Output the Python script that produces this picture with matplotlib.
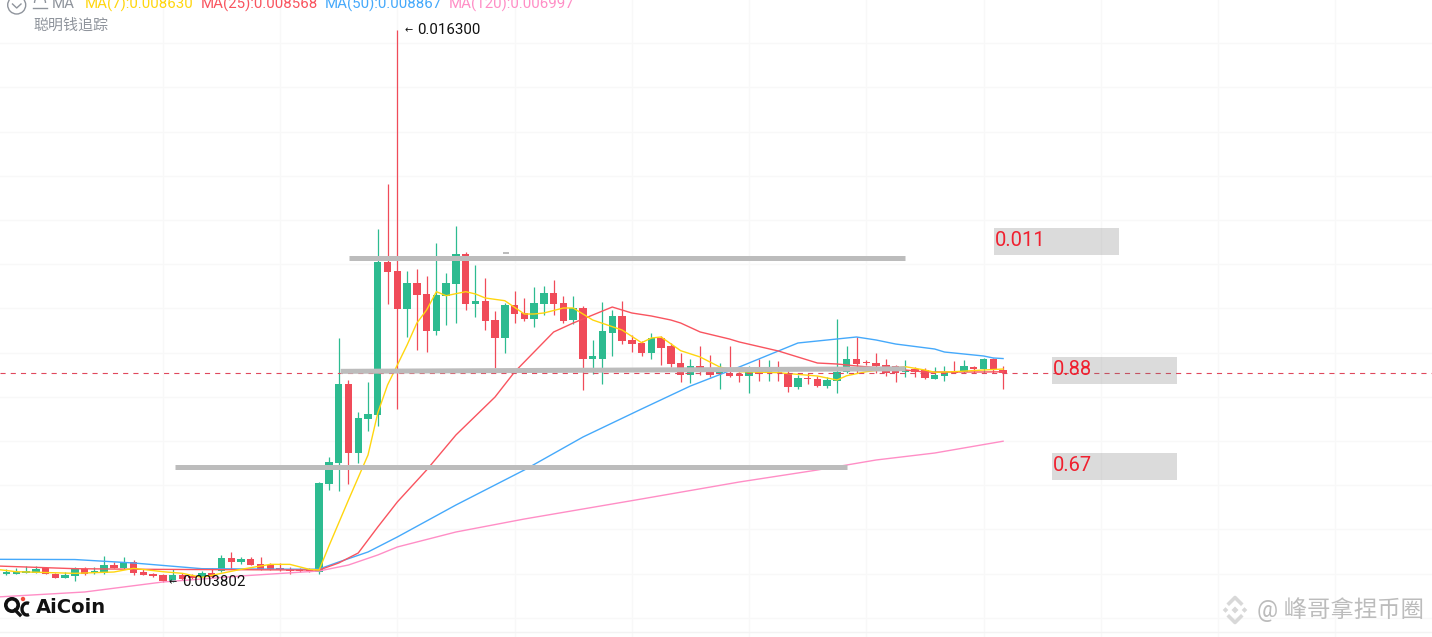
"""
plot.py - AiCoin style candlestick screenshot with MA lines and level boxes
Prices below are in millionths (0.008630 -> 8630).
"""

import numpy as np
import matplotlib
matplotlib.use('Agg')
import matplotlib.pyplot as plt
from matplotlib.patches import Circle, Arc, Polygon, Rectangle

plt.rcParams['font.family'] = ['Roboto', 'Noto Sans CJK SC', 'DejaVu Sans']

# Candles, one entry per bar from the left
opens = [3985, 4000, 4023, 4023, 4136, 4000, 3910, 3947, 4113, 4008, 4023, 4196, 4136, 4257, 4045, 3993,
         3970, 3804, 3970, 3955, 3932, 4023, 4060, 4355, 4257, 4332, 4211, 4204, 4121, 4098, 4098, 4098,
         4045, 6036, 6511, 8291, 6737, 7506, 7590, 11058, 10848, 9995, 10583, 10328, 9490, 10282, 10561, 11233,
         10101, 10169, 9739, 9339, 10079, 9904, 9762, 10101, 10357, 10131, 9739, 10018, 8857, 8857, 9452, 9830,
         9287, 9212, 9000, 9325, 9151, 8773, 8495, 8699, 8570, 8518, 8547, 8518, 8472, 8592, 8534, 8570,
         8518, 8217, 8434, 8405, 8246, 8359, 8556, 8857, 8796, 8773, 8721, 8699, 8556, 8624, 8608, 8411,
         8472, 8586, 8570, 8683, 8624, 8857, 8608]
highs = [4098, 4121, 4174, 4174, 4158, 4023, 4045, 4158, 4143, 4143, 4400, 4272, 4385, 4309, 4098, 4023,
         3985, 4098, 4008, 3993, 4068, 4121, 4422, 4498, 4385, 4370, 4370, 4234, 4234, 4143, 4136, 4121,
         6080, 6647, 9339, 8382, 7665, 8337, 11798, 12816, 16300, 10848, 10900, 10735, 11488, 10809, 11866, 11285,
         10977, 10683, 9943, 10131, 10395, 10230, 10479, 10509, 10644, 10282, 10289, 10056, 9287, 10153, 9966, 10169,
         9400, 9264, 9438, 9377, 9212, 9000, 8850, 9151, 8947, 8773, 9151, 8570, 8699, 8850, 8834, 8812,
         8608, 8495, 8547, 8479, 8457, 9755, 9151, 9348, 8834, 8986, 8850, 8721, 8834, 8683, 8647, 8669,
         8699, 8812, 8834, 8699, 8872, 8872, 8699]
lows = [3970, 3985, 4008, 4008, 3985, 3895, 3895, 3842, 3977, 3993, 3993, 4121, 4106, 3970, 3962, 3932,
        3812, 3802, 3857, 3887, 3917, 3917, 4030, 4098, 4211, 4189, 4083, 4083, 4068, 3993, 4045, 4030,
        3999, 5893, 5877, 6029, 6511, 7235, 7341, 10101, 7719, 9362, 9061, 9009, 9407, 9626, 9678, 9966,
        9814, 9513, 8647, 9000, 9678, 9724, 9588, 9852, 9852, 9678, 9649, 8156, 8511, 8285, 8925, 9196,
        9022, 8925, 8857, 8721, 8676, 8343, 8314, 8495, 8450, 8171, 8457, 8343, 8088, 8366, 8359, 8366,
        8117, 8178, 8291, 8217, 8208, 8095, 8534, 8540, 8721, 8534, 8472, 8343, 8443, 8457, 8405, 8405,
        8366, 8534, 8547, 8540, 8540, 8534, 8171]
closes = [4030, 4045, 4068, 4098, 4000, 3910, 3970, 4098, 4000, 4068, 4204, 4136, 4257, 4023, 3977, 3947,
          3827, 3970, 3879, 3910, 4008, 3932, 4362, 4257, 4339, 4204, 4106, 4098, 4083, 4060, 4068, 4053,
          6058, 6533, 8291, 6737, 7529, 7613, 11058, 10818, 9995, 10583, 10305, 9490, 10305, 10583, 11233, 10101,
          10169, 9717, 9339, 10079, 9875, 9762, 10131, 10357, 10101, 9724, 10018, 8857, 8918, 9490, 9830, 9264,
          9203, 9000, 9339, 9113, 8744, 8495, 8699, 8608, 8495, 8570, 8472, 8472, 8608, 8518, 8592, 8534,
          8217, 8434, 8398, 8246, 8382, 8570, 8857, 8744, 8760, 8699, 8547, 8534, 8608, 8556, 8420, 8495,
          8556, 8547, 8699, 8638, 8857, 8608, 8534]

# Moving averages, read at the bars where the line bends
ma7_idx = [-1, 1, 7, 11, 13, 16, 18, 20, 22, 24, 27, 29, 31, 32, 33, 35, 37, 38, 39, 41, 42, 43, 44, 45, 47, 48, 49,
           51, 53, 54, 55, 57, 58, 60, 63, 65, 66, 67, 69, 71, 73, 75, 79, 83, 85, 86, 88, 92, 94, 95, 97, 100, 102]
ma7_val = [4098, 4045, 4008, 4038, 4121, 4045, 4008, 3917, 4008, 4098, 4211, 4211, 4098, 4083, 4626, 5667, 6685,
           7635, 8269, 9174, 9671, 9966, 10380, 10289, 10380, 10328, 10237, 10176, 9875, 9875, 9898, 10011, 10011,
           9739, 9513, 9226, 9332, 9355, 9045, 8902, 8676, 8570, 8547, 8472, 8382, 8479, 8570, 8683, 8608, 8556,
           8570, 8608, 8630]
ma25_idx = [-1, 7, 14, 31, 32, 34, 36, 38, 40, 43, 46, 50, 52, 55, 56, 58, 62, 64, 66, 68, 69, 71, 74, 75, 79, 83,
            85, 87, 92, 94, 100, 102]
ma25_val = [4174, 4113, 4099, 4083, 4083, 4242, 4468, 5056, 5622, 6346, 7138, 7997, 8563, 9242, 9468, 9671, 10033,
            9898, 9830, 9739, 9671, 9468, 9309, 9242, 9038, 8766, 8744, 8699, 8608, 8563, 8563, 8568]
ma50_idx = [-1, 7, 13, 20, 31, 32, 34, 37, 40, 46, 53, 59, 65, 70, 75, 79, 81, 84, 87, 89, 91, 95, 96, 100, 101, 102]
ma50_val = [4325, 4320, 4242, 4113, 4099, 4106, 4264, 4491, 4830, 5554, 6346, 7092, 7726, 8246, 8676, 9038, 9219,
            9287, 9355, 9287, 9196, 9083, 9015, 8925, 8880, 8867]
ma120_idx = [-1, 8, 16, 24, 32, 35, 38, 40, 46, 53, 65, 75, 83, 89, 95, 102]
ma120_val = [3472, 3586, 3812, 3948, 4061, 4196, 4423, 4604, 4943, 5237, 5690, 6074, 6346, 6572, 6730, 6997]

# Drawn support / resistance bars: (start bar, end bar, start price, end price)
level_starts = [35.1, 34.2, 17.2]
level_ends = [92.0, 92.0, 86.0]
level_left = [11142, 8578, 6413]
level_right = [11142, 8635, 6413]

last_price = 8534
high_price = 16300
low_price = 3802
grid_first_bar = 16
grid_bar_step = 12

legend_names = ['MA(7):0.008630', 'MA(25):0.008568', 'MA(50):0.008867', 'MA(120):0.006997']
box_labels = ['0.011', '0.88', '0.67']

GREEN = '#2dbb90'
RED = '#f04b59'
C_MA7 = '#ffd60f'
C_MA25 = '#f9545f'
C_MA50 = '#45a9fb'
C_MA120 = '#ff8ec6'
LEVEL = '#bcbcbc'
GRID = '#f8f8f8'


def main():
    opn = np.array(opens) * 1e-6
    hig = np.array(highs) * 1e-6
    low = np.array(lows) * 1e-6
    cls = np.array(closes) * 1e-6
    bars = np.arange(len(opn))
    up = cls >= opn

    fig = plt.figure(figsize=(14.32, 6.37), dpi=100, facecolor='white')

    # Price axes, fills the whole picture
    ax = fig.add_axes([0, 0, 1, 1])
    ax.set_xlim(-0.665, 145.9)
    ax.set_ylim(0.0025675, 0.016979)
    ax.set_xticks(np.arange(grid_first_bar, 146, grid_bar_step))
    ax.set_yticks(np.arange(0.003, 0.0165, 0.001))
    ax.grid(True, color=GRID, lw=1.0)
    ax.set_axisbelow(True)
    ax.tick_params(length=0, labelbottom=False, labelleft=False)
    for spine in ax.spines.values():
        spine.set_visible(False)

    # Candles
    colors = np.where(up, GREEN, RED)
    ax.vlines(bars, low, hig, colors=colors, lw=0.9, zorder=2)
    body_low = np.minimum(opn, cls)
    body_h = np.maximum(np.abs(cls - opn), 2e-5)
    ax.bar(bars, body_h, bottom=body_low, width=0.76, color=colors, lw=0, zorder=3)

    # MA lines
    for idx, val, col in [(ma120_idx, ma120_val, C_MA120), (ma50_idx, ma50_val, C_MA50),
                          (ma25_idx, ma25_val, C_MA25), (ma7_idx, ma7_val, C_MA7)]:
        ax.plot(idx, np.array(val) * 1e-6, color=col, lw=1.0, zorder=4)

    # Last price line
    ax.axhline(last_price * 1e-6, color='#e0485c', lw=0.8, ls=(0, (4.6, 4.6)), zorder=4)

    # Hand drawn levels
    for x0, x1, p0, p1 in zip(level_starts, level_ends, level_left, level_right):
        ax.plot([x0, x1], [p0 * 1e-6, p1 * 1e-6], color=LEVEL, lw=3.6, solid_capstyle='butt', zorder=5)

    # High / low notes
    ax.text(40.69, high_price * 1e-6, '\u2190', fontsize=7, color='#111111', va='center', zorder=6,
            family='DejaVu Sans')
    ax.text(42.02, high_price * 1e-6, '0.016300', fontsize=10.8, color='#111111', va='center', zorder=6)
    ax.text(16.63, low_price * 1e-6, '\u2190', fontsize=7, color='#111111', va='center', zorder=6,
            family='DejaVu Sans')
    ax.text(17.96, low_price * 1e-6, '0.003802', fontsize=10.8, color='#111111', va='center', zorder=6)

    # Overlay in picture pixels for the chrome around the chart
    ov = fig.add_axes([0, 0, 1, 1], facecolor='none')
    ov.set_xlim(0, 1432)
    ov.set_ylim(637, 0)
    ov.axis('off')

    # Bottom edge of the chart area
    ov.plot([0, 1432], [632, 632], color='#f3f3f3', lw=1.0)

    # Header
    ov.add_patch(Circle((16.7, 5), 9, fc='none', ec='#8f949c', lw=1.0))
    ov.plot([12.5, 16.7, 21], [4, 8, 4], color='#8f949c', lw=1.0)
    ov.add_patch(Arc((40, 3), 11, 14, theta1=180, theta2=360, ec='#8f949c', lw=1.0))
    ov.plot([33, 47], [8, 8], color='#8f949c', lw=1.0)
    ov.text(52, 4, 'MA', fontsize=10.8, color='#8f949c', va='center')
    for x, name, col in zip([85, 201, 325, 449], legend_names, [C_MA7, C_MA25, C_MA50, C_MA120]):
        ov.text(x, 4, name, fontsize=10.8, color=col, va='center')
    ov.text(33, 26, '聪明钱追踪', fontsize=10.8, color='#8f949c', va='center')

    # Level boxes
    for (x, y), lab in zip([(994, 228), (1052, 357), (1052, 453)], box_labels):
        ov.add_patch(Rectangle((x, y), 125, 27, fc=(0.45, 0.45, 0.45, 0.25), ec='none'))
        ov.text(x + 0.5, y + 12.5, lab, fontsize=14.5, color='#f0202f', va='center')
    ov.add_patch(Rectangle((503, 252), 6, 2, fc=LEVEL, ec='none'))

    # AiCoin logo
    ov.add_patch(Circle((12, 605), 6.2, fc='none', ec='#111111', lw=2.6))
    ov.plot([15, 20], [610, 615], color='#111111', lw=2.4)
    ov.add_patch(Arc((27, 609), 10, 12, theta1=70, theta2=290, ec='#111111', lw=2.4))
    ov.add_patch(Circle((23, 599), 2.2, fc='#f04b3a', ec='none'))
    ov.text(36, 607.5, 'AiCoin', fontsize=14, fontweight='bold', color='#111111', va='center',
            family='DejaVu Sans')

    # Watermark
    wm = '#d8d8d8'
    for cx, cy, r in [(1235, 610, 3.5), (1225.5, 610, 2.8), (1244.5, 610, 2.8)]:
        ov.add_patch(Polygon([(cx - r, cy), (cx, cy - r), (cx + r, cy), (cx, cy + r)], fc=wm, ec='none'))
    ov.plot([1229, 1235, 1241], [603.5, 597.5, 603.5], color=wm, lw=2.6)
    ov.plot([1229, 1235, 1241], [616.5, 622.5, 616.5], color=wm, lw=2.6)
    ov.text(1257, 610, '@ 峰哥拿捏币圈', fontsize=16.8, color='#bcbcbc', va='center')

    fig.savefig('out.png', dpi=100, facecolor='white')


if __name__ == '__main__':
    main()
